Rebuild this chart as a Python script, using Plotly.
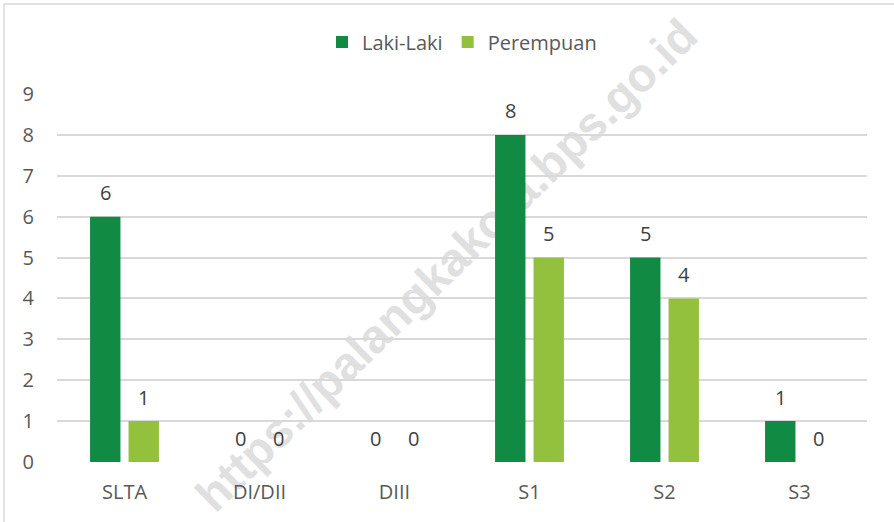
import plotly.graph_objects as go

categories = ["SLTA", "DI/DII", "DIII", "S1", "S2", "S3"]
laki_laki = [6, 0, 0, 8, 5, 1]
perempuan = [1, 0, 0, 5, 4, 0]
series_names = ["Laki-Laki", "Perempuan"]
y_ticks = [0, 1, 2, 3, 4, 5, 6, 7, 8, 9]
watermark = "https://palangkakota.bps.go.id"

DARK = "#118B43"
LIGHT = "#93C13E"
FONT = "Open Sans"
TXT = "#595959"

W, H = 894, 522
# plot area in page pixels: x 57..867, y 94..462
L, T = 57, 94
R = W - 867
B = H - 462
pw, ph = W - L - R, H - T - B


def px_to_paper(x, y):
    return (x - L) / pw, (H - B - y) / ph


fig = go.Figure()
fig.add_trace(go.Bar(x=categories, y=laki_laki, name=series_names[0],
                     marker=dict(color=DARK, line=dict(width=0))))
fig.add_trace(go.Bar(x=categories, y=perempuan, name=series_names[1],
                     marker=dict(color=LIGHT, line=dict(width=0))))

# data labels
offset = 19
for vals, sh in ((laki_laki, -offset), (perempuan, offset)):
    for c, v in zip(categories, vals):
        fig.add_annotation(x=c, y=v, text=str(v), showarrow=False,
                           xshift=sh, yshift=24,
                           font=dict(family=FONT, size=20, color="#404040"))

# chart border (top and left edges visible in the crop)
tlx, tly = px_to_paper(4, 4)
blx, bly = px_to_paper(4, 530)
trx, try_ = px_to_paper(900, 4)
for x0, y0, x1, y1 in ((tlx, tly, trx, try_), (tlx, tly, blx, bly)):
    fig.add_shape(type="line", xref="paper", yref="paper", x0=x0, y0=y0, x1=x1, y1=y1,
                  line=dict(color="#d9d9d9", width=1.5), layer="below")

# watermark, behind bars
wx0, wy0 = px_to_paper(216, 526)
wx1, wy1 = px_to_paper(712, 40)
fig.add_shape(type="line", xref="paper", yref="paper", x0=wx0, y0=wy0, x1=wx1, y1=wy1,
              line=dict(width=0, color="rgba(0,0,0,0)"), layer="below",
              label=dict(text=watermark, textposition="middle",
                         font=dict(family="Liberation Sans", size=47, color="#e0e0e0",
                                   weight="bold")))

fig.update_layout(
    width=W, height=H,
    margin=dict(l=L, r=R, t=T, b=B),
    paper_bgcolor="white", plot_bgcolor="white",
    barmode="group", bargap=0.43, bargroupgap=0.21,
    font=dict(family=FONT, size=20, color=TXT),
    showlegend=True,
    legend=dict(orientation="h", x=0.5, xanchor="center", y=(462 - 42) / ph,
                yanchor="middle", font=dict(family=FONT, size=20, color=TXT),
                bgcolor="rgba(0,0,0,0)", itemwidth=30, traceorder="normal"),
    xaxis=dict(showgrid=False, zeroline=False, showline=False, ticks="",
               tickfont=dict(family=FONT, size=20, color=TXT), ticklabelstandoff=16),
    yaxis=dict(range=[0, 9], tickvals=y_ticks, showgrid=True, gridcolor="#d9d9d9",
               gridwidth=1.5, zeroline=False, showline=False, ticks="",
               tickfont=dict(family=FONT, size=20, color=TXT), ticklabelstandoff=22),
)

fig.write_html("out.html", config={"displayModeBar": False},
               post_script="document.body.style.margin='0';document.body.style.overflow='hidden';")
